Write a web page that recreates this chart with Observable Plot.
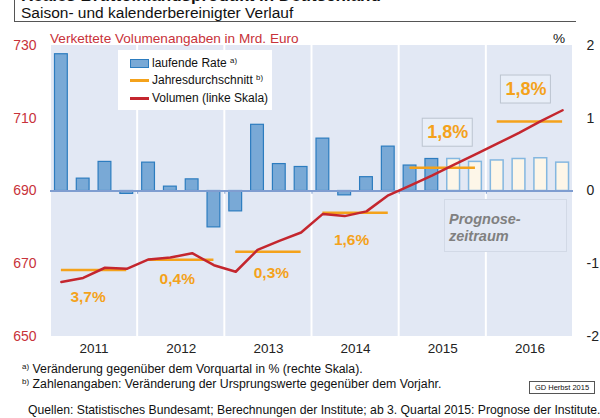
<!DOCTYPE html>
<html><head><meta charset="utf-8">
<script src="https://cdn.jsdelivr.net/npm/d3@7"></script>
<script src="https://cdn.jsdelivr.net/npm/@observablehq/plot@0.6"></script>
<style>
body{margin:0;background:#fff;font-family:"Liberation Sans",Arial,sans-serif;color:#111;}
#wrap{position:relative;width:600px;height:418px;overflow:hidden;}
.abs{position:absolute;white-space:nowrap;z-index:2;}
#chart{position:absolute;left:0;top:0;z-index:1;}
sup{font-size:0.65em;vertical-align:0;position:relative;top:-0.55em;}
.lg-row{position:absolute;left:12px;height:14px;font-size:12px;line-height:14px;}
</style></head><body>
<div id="wrap">
  <div class="abs" style="left:14px;top:-30px;width:561px;height:51px;border-left:1px solid #555;border-bottom:1px solid #555;"></div>
  <div class="abs" style="left:21px;top:-13.5px;font-weight:bold;font-size:17px;line-height:17px;">Reales Bruttoinlandsprodukt in Deutschland</div>
  <div class="abs" style="left:21px;top:4.5px;font-size:15.5px;line-height:15.5px;">Saison- und kalenderbereinigter Verlauf</div>
  <div class="abs" style="left:50px;top:31.5px;font-size:13.6px;line-height:13.6px;color:#c8323a;">Verkettete Volumenangaben in Mrd. Euro</div>
  <div class="abs" style="left:553px;top:31.5px;font-size:13.6px;line-height:13.6px;">%</div>
  <div id="chart"></div>
  <div class="abs" style="left:118px;top:50px;width:154px;height:60px;background:#fff;">
    <div class="lg-row" style="top:6px;"><span style="position:absolute;left:0;top:3px;width:17px;height:7px;background:#79a9d6;border:1px solid #2c7cbf;"></span><span style="position:absolute;left:22px;">laufende Rate <sup>a)</sup></span></div>
    <div class="lg-row" style="top:23px;"><span style="position:absolute;left:0;top:6px;width:19px;height:3px;background:#f4a21b;"></span><span style="position:absolute;left:22px;">Jahresdurchschnitt <sup>b)</sup></span></div>
    <div class="lg-row" style="top:41px;"><span style="position:absolute;left:0;top:6px;width:19px;height:3px;background:#c4262e;"></span><span style="position:absolute;left:22px;">Volumen (linke Skala)</span></div>
  </div>
  <div class="abs" style="left:444px;top:199px;width:121px;height:51px;background:#e3e9f5;border:1px solid #d2d9e6;"></div>
  <div class="abs" style="left:449px;top:211px;font-size:14.5px;line-height:17px;font-weight:bold;font-style:italic;color:#808080;">Prognose-<br>zeitraum</div>
  <div class="abs" style="left:22px;top:363px;font-size:12.3px;line-height:12.3px;"><sup>a)</sup> Veränderung gegenüber dem Vorquartal in % (rechte Skala).</div>
  <div class="abs" style="left:22px;top:378px;font-size:12.3px;line-height:12.3px;"><sup>b)</sup> Zahlenangaben: Veränderung der Ursprungswerte gegenüber dem Vorjahr.</div>
  <div class="abs" style="left:529px;top:381px;width:64px;height:11px;border:1px solid #555;font-size:7.5px;line-height:11px;text-align:center;">GD Herbst 2015</div>
  <div class="abs" style="left:28px;top:404px;font-size:12.2px;line-height:12.2px;">Quellen: Statistisches Bundesamt; Berechnungen der Institute; ab 3. Quartal 2015: Prognose der Institute.</div>
</div>
<script>
// ---- data ----
const years = [2011, 2012, 2013, 2014, 2015, 2016];
// quarterly change vs previous quarter, % (right scale)
const rate = [1.88, 0.17, 0.40, -0.04,
              0.39, 0.06, 0.16, -0.50,
              -0.28, 0.91, 0.37, 0.33,
              0.72, -0.06, 0.19, 0.61,
              0.35, 0.44, 0.44, 0.40,
              0.42, 0.44, 0.45, 0.39];
// chained volume, bn Euro (left scale)
const volume = [665.0, 666.1, 668.9, 668.6,
                671.2, 671.7, 672.9, 669.6,
                667.8, 673.8, 676.3, 678.6,
                683.7, 683.1, 684.4, 688.8,
                691.5, 694.2, 697.2, 700.1,
                703.0, 706.0, 709.2, 712.2];
const forecastStart = 18; // from 2015 Q3
const annualAvg = [668.3, 671.1, 673.3, 684.0, 696.4, 709.1];
const annualGrowth = ["3,7%", "0,4%", "0,3%", "1,6%", "1,8%", "1,8%"];
const leftTicks = [650, 670, 690, 710, 730];

// right scale (%) mapped onto left scale: 0% -> 690, 1% -> 20 units
const toLeft = v => 690 + 20 * v;

const quarters = rate.map((r, i) => ({
  start: years[0] + i * 0.25,
  mid: years[0] + i * 0.25 + 0.125,
  rate: r, vol: volume[i], fc: i >= forecastStart
}));
const actual = quarters.filter(d => !d.fc);
const fcast = quarters.filter(d => d.fc);

const orange = "#f4a21b";
const labelOff = [[-6, 27], [-4, 19], [3, 21], [-4, 27], [5, -35], [-4, -32]];

const marks = [
  Plot.rect(years, {x1: d => d, x2: d => d + 1, y1: 650, y2: 730, fill: "#e2e8f4", insetLeft: 1, insetRight: 1}),
  Plot.rect(actual, {x1: "start", x2: d => d.start + 0.25, y1: 690, y2: d => toLeft(d.rate), fill: "#79a9d6", stroke: "#2c7cbf", strokeWidth: 1.2, insetLeft: 4.5, insetRight: 4.5}),
  Plot.rect(fcast, {x1: "start", x2: d => d.start + 0.25, y1: 690, y2: d => toLeft(d.rate), fill: "#fdf6e8", stroke: "#84b7e0", strokeWidth: 1.5, insetLeft: 4.5, insetRight: 4.5}),
  Plot.ruleY([690], {stroke: "#7f9dd0", strokeWidth: 2}),
  Plot.ruleX(years.slice(1), {y1: 690, y2: 689.1, stroke: "#7f9dd0", strokeWidth: 1}),
  Plot.ruleY(years, {y: (d, i) => annualAvg[i], x1: d => d + 0.125, x2: d => d + 0.875, stroke: orange, strokeWidth: 2.5}),
  Plot.line(quarters, {x: "mid", y: "vol", stroke: "#c4262e", strokeWidth: 2.5}),
];
years.forEach((yr, i) => {
  const [dx, dy] = labelOff[i];
  const boxed = i >= 4;
  if (boxed) {
    marks.push(Plot.rect([yr], {x1: d => d + 0.5, x2: d => d + 0.5, y1: annualAvg[i], y2: annualAvg[i],
      insetLeft: dx - 25, insetRight: -25 - dx, insetTop: dy - 14, insetBottom: -dy - 14,
      fill: "#e8eef8", stroke: "#bcc4cf", strokeWidth: 1}));
  }
  marks.push(Plot.text([yr], {x: d => d + 0.5, y: annualAvg[i], text: () => annualGrowth[i], dx, dy,
    fill: orange, fontWeight: "bold", fontSize: boxed ? 18 : 15.5}));
});
marks.push(
  Plot.axisY({anchor: "left", ticks: leftTicks, tickSize: 0, tickPadding: 14, color: "#c8323a", fontSize: 14, label: null}),
  Plot.axisY({anchor: "right", ticks: leftTicks, tickFormat: d => String((d - 690) / 20), tickSize: 0, tickPadding: 13, color: "#222", fontSize: 14, label: null}),
  Plot.axisX({ticks: years.map(y => y + 0.5), tickFormat: d => String(Math.floor(d)), tickSize: 0, tickPadding: 7, color: "#222", fontSize: 13.5, label: null})
);

const chart = Plot.plot({
  width: 600, height: 418,
  marginTop: 45, marginRight: 27, marginBottom: 82, marginLeft: 50,
  x: {domain: [2011, 2017]},
  y: {domain: [650, 730]},
  style: {fontFamily: "'Liberation Sans', Arial, sans-serif", background: "transparent"},
  marks
});
document.getElementById("chart").appendChild(chart);
</script>
</body></html>
